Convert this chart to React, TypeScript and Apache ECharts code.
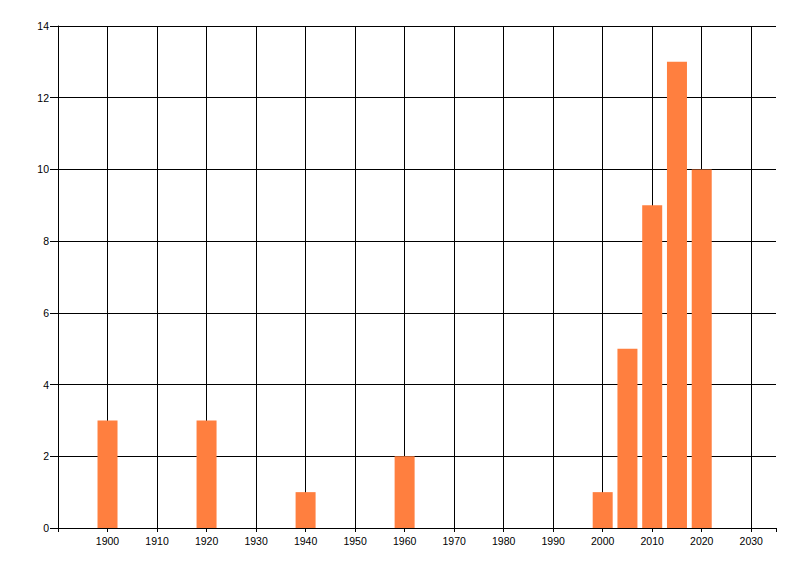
import { useEffect, useRef } from 'react';
import * as echarts from 'echarts';

const years = [1900, 1920, 1940, 1960, 2000, 2005, 2010, 2015, 2020];
const counts = [3, 3, 1, 2, 1, 5, 9, 13, 10];
const xTicks = [1900, 1910, 1920, 1930, 1940, 1950, 1960, 1970, 1980, 1990, 2000, 2010, 2020, 2030];

const FONT = '"Liberation Sans", Arial, sans-serif';

export default function App() {
  const chartRef = useRef<HTMLDivElement>(null);

  useEffect(() => {
    document.body.style.margin = '0';
    if (!chartRef.current) return;
    const chart = echarts.init(chartRef.current, undefined, { renderer: 'svg' });

    chart.setOption({
      animation: false,
      backgroundColor: '#ffffff',
      grid: { left: 58, right: 24, top: 26, bottom: 48 },
      xAxis: {
        type: 'value',
        min: 1890,
        max: 2035,
        interval: 10,
        splitLine: { show: false },
        axisLine: { show: true, lineStyle: { color: '#000', width: 1 } },
        axisTick: { show: true, length: 4, lineStyle: { color: '#000' } },
        axisLabel: {
          color: '#000',
          fontFamily: FONT,
          fontSize: 10.5,
          margin: 7,
          formatter: (v: number) => (xTicks.includes(v) ? String(v) : ''),
        },
      },
      yAxis: {
        type: 'value',
        min: 0,
        max: 14,
        interval: 2,
        axisLine: { show: true, lineStyle: { color: '#000', width: 1 } },
        axisTick: { show: true, length: 8, lineStyle: { color: '#000' } },
        splitLine: { show: true, lineStyle: { color: '#000', width: 1 } },
        axisLabel: { color: '#000', fontFamily: FONT, fontSize: 10.5, margin: 9 },
      },
      series: [
        {
          type: 'bar',
          barWidth: 20,
          itemStyle: { color: '#FF7F3F' },
          data: years.map((y, i) => [y, counts[i]]),
          markLine: {
            silent: true,
            symbol: ['none', 'none'],
            label: { show: false },
            lineStyle: { color: '#000', width: 1, type: 'solid' },
            z: 0,
            data: xTicks.map((t) => ({ xAxis: t })),
          },
        },
      ],
    });

    return () => chart.dispose();
  }, []);

  return <div ref={chartRef} style={{ width: 800, height: 576 }} />;
}
